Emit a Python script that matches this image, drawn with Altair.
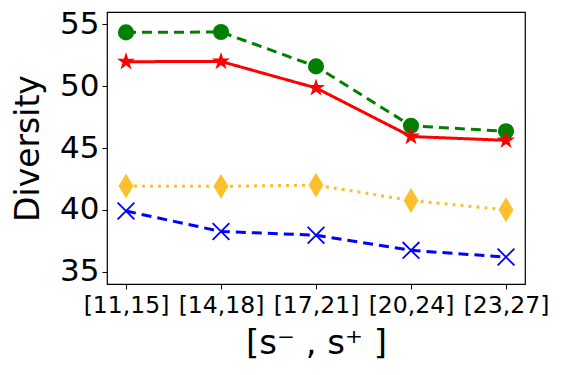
import altair as alt
import pandas as pd

categories = ["[11,15]", "[14,18]", "[17,21]", "[20,24]", "[23,27]"]
green_vals = [54.35, 54.38, 51.6, 46.8, 46.35]
red_vals = [51.98, 52.0, 49.86, 45.93, 45.62]
yellow_vals = [41.92, 41.9, 42.0, 40.75, 40.0]
blue_vals = [39.9, 38.25, 37.95, 36.72, 36.18]

STAR = ("M0,-1L0.2245,-0.309L0.951,-0.309L0.3633,0.118L0.588,0.809L0,0.382"
        "L-0.588,0.809L-0.3633,0.118L-0.951,-0.309L-0.2245,-0.309Z")
XMARK = "M-1,-1L1,1M-1,1L1,-1"
THIN_DIAMOND = "M0,-1L0.6,0L0,1L-0.6,0Z"

series = [
    ("green", green_vals, "green", [10, 6], "circle", 260, True, 0),
    ("red", red_vals, "red", [], STAR, 360, True, 0),
    ("yellow", yellow_vals, "#fbc02d", [3, 5], THIN_DIAMOND, 620, True, 0),
    ("blue", blue_vals, "blue", [10, 6], XMARK, 280, False, 1.8),
]

x_enc = alt.X(
    "cat:O",
    sort=categories,
    scale=alt.Scale(type="point", padding=0.2),
    axis=alt.Axis(
        title="[s⁻ , s⁺ ]",
        titleFontSize=34,
        titleFontWeight="normal",
        titleColor="black",
        titlePadding=10,
        labelFontSize=23.5,
        labelColor="black",
        labelAngle=0,
        labelPadding=4,
        tickColor="black",
        tickSize=5,
        domain=False,
        grid=False,
        labelFont="DejaVu Sans",
        titleFont="DejaVu Sans",
    ),
)
y_scale = alt.Scale(domain=[34, 56], nice=False, zero=False)
y_axis = alt.Axis(
    title="Diversity",
    titleFontSize=33,
    titleFontWeight="normal",
    titleColor="black",
    titlePadding=14,
    labelFontSize=31,
    labelColor="black",
    labelPadding=3,
    values=[35, 40, 45, 50, 55],
    tickColor="black",
    tickSize=5,
    domain=False,
    grid=False,
    labelFont="DejaVu Sans",
    titleFont="DejaVu Sans",
)

layers = []
for name, vals, color, dash, shape, size, filled, sw in series:
    df = pd.DataFrame({"cat": categories, "v": vals})
    line = alt.Chart(df).mark_line(
        color=color, strokeWidth=3, strokeDash=dash if dash else [1, 0]
    ).encode(x=x_enc, y=alt.Y("v:Q", scale=y_scale, axis=y_axis))
    if filled:
        pt = alt.Chart(df).mark_point(
            shape=shape, size=size, filled=True, color=color, opacity=1, strokeWidth=0
        )
    else:
        pt = alt.Chart(df).mark_point(
            shape=shape, size=size, filled=False, color=color, opacity=1, strokeWidth=sw
        )
    pt = pt.encode(x=x_enc, y=alt.Y("v:Q", scale=y_scale, axis=y_axis))
    layers += [line, pt]

chart = alt.layer(*layers).properties(
    width=418,
    height=272,
    autosize=alt.AutoSizeParams(type="none"),
    padding={"left": 99, "top": 4, "right": 29, "bottom": 80},
).configure_view(stroke="black", strokeWidth=1.2)

chart.save("out.html", embed_options={"renderer": "svg", "actions": False})
